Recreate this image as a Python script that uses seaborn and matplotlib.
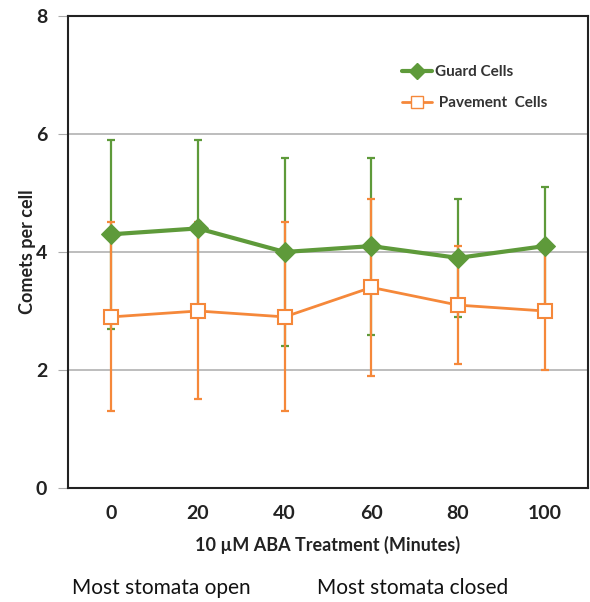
import pandas as pd
import seaborn as sns
import matplotlib.pyplot as plt
from matplotlib.lines import Line2D

# values
minutes = [0, 20, 40, 60, 80, 100]
guard_mean = [4.3, 4.4, 4.0, 4.1, 3.9, 4.1]
guard_err = [1.6, 1.5, 1.6, 1.5, 1.0, 1.0]
pave_mean = [2.9, 3.0, 2.9, 3.4, 3.1, 3.0]
pave_err = [1.6, 1.5, 1.6, 1.5, 1.0, 1.0]

green = '#5e9a3a'
orange = '#f5883a'

df = pd.DataFrame({
    'minutes': minutes * 2,
    'comets': guard_mean + pave_mean,
    'cell': ['Guard Cells'] * 6 + ['Pavement  Cells'] * 6,
})

sns.set_style('white')
plt.rcParams['font.family'] = ['Lato', 'DejaVu Sans']

fig = plt.figure(figsize=(5.9, 6.02), dpi=100)
ax = fig.add_axes([0.1153, 0.1894, 0.8813, 0.784])

# error bars first, then lines on top
ax.errorbar(minutes, guard_mean, yerr=guard_err, fmt='none', ecolor=green,
            elinewidth=1.6, capsize=3, capthick=1.6, zorder=2)
ax.errorbar(minutes, pave_mean, yerr=pave_err, fmt='none', ecolor=orange,
            elinewidth=1.6, capsize=3, capthick=1.6, zorder=3)

sns.lineplot(data=df, x='minutes', y='comets', hue='cell', style='cell',
             palette={'Guard Cells': green, 'Pavement  Cells': orange},
             markers={'Guard Cells': 'D', 'Pavement  Cells': 's'},
             dashes=False, ax=ax, zorder=4, legend=False)

for ln in ax.get_lines():
    if ln.get_color() == green:
        ln.set_linewidth(3)
        ln.set_markersize(10)
        ln.set_markerfacecolor(green)
        ln.set_markeredgecolor(green)
    elif ln.get_color() == orange:
        ln.set_linewidth(2)
        ln.set_markersize(10)
        ln.set_markerfacecolor('white')
        ln.set_markeredgecolor(orange)
        ln.set_markeredgewidth(1.5)

# legend
handles = [
    Line2D([], [], color=green, lw=3, marker='D', ms=8, mfc=green, mec=green),
    Line2D([], [], color=orange, lw=2, marker='s', ms=8, mfc='white', mec=orange),
]
ax.legend(handles, ['Guard Cells', ' Pavement  Cells'], frameon=False,
          loc='upper left', bbox_to_anchor=(0.615, 0.925), handlelength=2.0,
          handletextpad=0.2, labelspacing=1.1,
          prop={'weight': 'bold', 'size': 11}, labelcolor='#333333')

ax.set_xlim(-10, 110)
ax.set_ylim(0, 8)
ax.set_xticks(minutes)
ax.set_yticks([0, 2, 4, 6, 8])
for y in [2, 4, 6]:
    ax.axhline(y, color='#bdbdbd', lw=1.4, zorder=1)

for s in ax.spines.values():
    s.set_visible(True)
    s.set_color('#222222')
    s.set_linewidth(1.5)

ax.tick_params(axis='y', left=True, length=7, width=0.8, color='#aaaaaa',
               labelsize=14, pad=8)
ax.tick_params(axis='x', bottom=False, labelsize=14, pad=9)
for lab in ax.get_xticklabels() + ax.get_yticklabels():
    lab.set_fontweight('bold')
    lab.set_color('#222222')

ax.set_xlabel('10 µM ABA Treatment (Minutes)', fontsize=13, fontweight='bold',
              color='#222222', labelpad=10)
ax.set_ylabel('Comets per cell', fontsize=13, fontweight='bold', color='#222222')
ax.yaxis.set_label_coords(-0.062, 0.5)

fig.text(0.274, 0.014, 'Most stomata open', ha='center', fontsize=15, color='#111111')
fig.text(0.70, 0.014, 'Most stomata closed', ha='center', fontsize=15, color='#111111')

fig.savefig('out.png', dpi=100)
